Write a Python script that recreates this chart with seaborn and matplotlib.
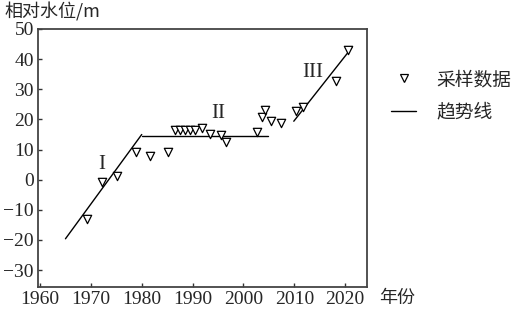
import matplotlib
matplotlib.use("Agg")
import matplotlib.pyplot as plt
import seaborn as sns
import pandas as pd
from matplotlib.lines import Line2D

# --- data ---
sample_year = [1969.2, 1972.2, 1975.2, 1978.8, 1981.6, 1985.2,
               1986.5, 1987.5, 1988.5, 1989.5, 1990.4, 1991.9,
               1993.5, 1995.6, 1996.6, 2002.6, 2003.7, 2004.3,
               2005.4, 2007.4, 2010.3, 2011.7, 2018.3, 2020.6]
sample_level = [-13.0, -0.8, 1.3, 9.1, 7.7, 9.1,
                16.5, 16.5, 16.5, 16.5, 16.5, 17.2,
                15.2, 14.8, 12.4, 15.9, 20.7, 23.0,
                19.4, 18.9, 22.9, 24.0, 32.9, 43.1]

trend_I_year = [1965.0, 1980.0]
trend_I_level = [-19.6, 15.0]
trend_II_year = [1980.0, 2004.8]
trend_II_level = [14.5, 14.5]
trend_III_year = [2009.9, 2021.4]
trend_III_level = [19.4, 44.0]

phase_labels = ["I", "II", "III"]
phase_x = [1972.1, 1995.1, 2013.7]
phase_y = [5.2, 21.8, 35.6]

xticks = [1960, 1970, 1980, 1990, 2000, 2010, 2020]
yticks = [-30, -20, -10, 0, 10, 20, 30, 40, 50]

sns.set_style("ticks")
plt.rcParams['font.family'] = ['Liberation Serif', 'Noto Sans CJK SC', 'DejaVu Sans']
cjk = ['Noto Sans CJK SC', 'DejaVu Sans']

fig = plt.figure(figsize=(5.15, 3.09), dpi=100)
ax = fig.add_axes([38/515, 1-287/309, (367-38)/515, (287-29)/309])

df = pd.DataFrame({"year": sample_year, "level": sample_level})
sns.scatterplot(data=df, x="year", y="level", ax=ax, marker="v", s=36,
                facecolor="white", edgecolor="black", linewidth=0.9, zorder=3)

for xs, ys in [(trend_I_year, trend_I_level), (trend_II_year, trend_II_level),
               (trend_III_year, trend_III_level)]:
    sns.lineplot(x=xs, y=ys, ax=ax, color="black", linewidth=1.0, estimator=None, zorder=2)

for t, x, y in zip(phase_labels, phase_x, phase_y):
    ax.text(x, y, t, ha="center", va="center", fontsize=15, family='Liberation Serif')

ax.set_xlim(1959.6, 2024.3)
ax.set_ylim(-35.6, 50)
ax.set_xticks(xticks)
ax.set_yticks(yticks)
ax.set_xticklabels([str(v) for v in xticks], fontsize=14)
ax.set_yticklabels([str(v).replace('-', '\u2212') for v in yticks], fontsize=14)
ax.tick_params(direction="in", length=3, width=1, color="#333333", pad=3)
for s in ax.spines.values():
    s.set_linewidth(1.3)
    s.set_color("#444444")
ax.set_xlabel("")
ax.set_ylabel("")

fig.text(4/515, 1-12/309, "相对水位/m", ha="left", va="center", fontsize=13, family=cjk)
fig.text(379/515, 1-298/309, "年份", ha="left", va="center", fontsize=13, family=cjk)

handles = [Line2D([], [], marker="v", linestyle="none", markersize=6,
                  markerfacecolor="white", markeredgecolor="black", markeredgewidth=0.9),
           Line2D([], [], color="black", linewidth=1.0)]
leg = fig.legend(handles, ["采样数据", "趋势线"], loc="upper left",
                 bbox_to_anchor=(391/515, 1-69/309), frameon=False,
                 prop={'family': cjk, 'size': 13.5}, handlelength=1.35,
                 handletextpad=1.05, labelspacing=0.6, borderpad=0, borderaxespad=0)

fig.savefig("out.png", dpi=100)
